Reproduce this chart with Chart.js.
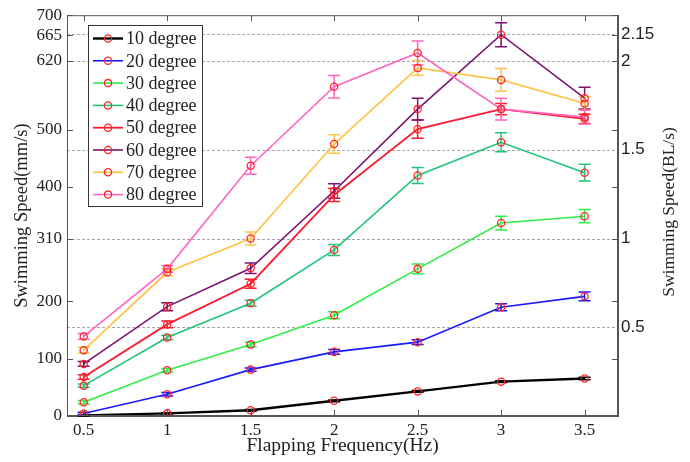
<!DOCTYPE html>
<html lang="en">
<head>
    <meta charset="UTF-8">
    <style>
        html, body { margin: 0; padding: 0; background: #fff; }
        .wrap { width: 690px; height: 462px; position: relative; }
    </style>
</head>
<body>
    <div class="wrap"><canvas id="speedChart"></canvas></div>

    <script src="https://cdn.jsdelivr.net/npm/chart.js"></script>
    <script>
        // flapping frequency (Hz)
        const freq = [0.5, 1, 1.5, 2, 2.5, 3, 3.5];

        // swimming speed (mm/s) per flapping angle
        const deg10 = [1, 4.6, 10, 26.6, 43, 60, 65.5];
        const deg20 = [4.5, 38, 81, 112, 129, 190, 209];
        const deg30 = [24, 80, 125, 176, 257, 337, 349];
        const deg40 = [53, 137, 197, 290, 420, 478, 425];
        const deg50 = [68, 160, 231, 386, 501, 536, 519];
        const deg60 = [91, 191, 258, 393, 536, 666, 555];
        const deg70 = [115, 251, 310, 475, 608, 587, 546];
        const deg80 = [139, 257, 437, 575, 634, 536, 522];

        // error bar half widths (mm/s)
        const err10 = [1, 1, 1.5, 1.5, 1.5, 1.5, 2];
        const err20 = [2, 3, 3, 4, 4, 6, 7.5];
        const err30 = [3, 3, 4, 6, 8.5, 12, 11.5];
        const err40 = [3, 4, 5, 9.5, 14, 16.5, 14.5];
        const err50 = [4, 6, 8, 11.5, 16, 10, 8];
        const err60 = [4, 7, 9, 12.5, 19, 21, 19];
        const err70 = [5, 6, 11.5, 16, 13, 20, 12];
        const err80 = [5, 6, 15, 19.5, 21, 19, 12];

        const labels = ['10 degree', '20 degree', '30 degree', '40 degree',
                        '50 degree', '60 degree', '70 degree', '80 degree'];

        // tick values
        const xTicks = [0.5, 1, 1.5, 2, 2.5, 3, 3.5];
        const leftTicks = [0, 100, 200, 310, 400, 500, 620, 665, 700];
        const rightTicks = [0.5, 1, 1.5, 2, 2.15];
        const bodyLength = 310; // mm, 1 BL/s = 310 mm/s

        const series = [deg10, deg20, deg30, deg40, deg50, deg60, deg70, deg80];
        const errors = [err10, err20, err30, err40, err50, err60, err70, err80];
        const colors = ['#000000', '#1a1aff', '#30ee48', '#20c47a',
                        '#ff1a30', '#7c1272', '#ffc44e', '#ff66c2'];
        const widths = [2.4, 1.6, 1.6, 1.6, 1.8, 1.6, 1.8, 1.6];
        const markerColor = '#ff2626';
        const serif = "'Liberation Serif', 'Times New Roman', serif";
        const sans = "'Liberation Sans', Arial, sans-serif";

        const datasets = series.map((vals, i) => ({
            label: labels[i],
            data: freq.map((f, j) => ({ x: f, y: vals[j] })),
            errs: errors[i],
            borderColor: colors[i],
            borderWidth: widths[i],
            pointStyle: 'circle',
            pointRadius: 3.6,
            pointBorderWidth: 1.3,
            pointBorderColor: markerColor,
            pointBackgroundColor: 'rgba(0,0,0,0)',
            fill: false,
            tension: 0,
            order: 8 - i
        }));

        const decor = {
            id: 'decor',
            beforeDatasetsDraw(chart) {
                const { ctx, chartArea: a, scales } = chart;
                ctx.save();
                // dashed grid at BL/s values
                ctx.strokeStyle = '#a8a8b0';
                ctx.lineWidth = 1;
                ctx.setLineDash([3, 2]);
                rightTicks.forEach(v => {
                    const y = Math.round(scales.y2.getPixelForValue(v)) + 0.5;
                    ctx.beginPath();
                    ctx.moveTo(a.left, y);
                    ctx.lineTo(a.right, y);
                    ctx.stroke();
                });
                ctx.setLineDash([]);
                // error bars
                chart.data.datasets.forEach(ds => {
                    ctx.strokeStyle = ds.borderColor;
                    ctx.lineWidth = 1.5;
                    ds.data.forEach((p, j) => {
                        const x = scales.x.getPixelForValue(p.x);
                        const y1 = scales.y.getPixelForValue(p.y - ds.errs[j]);
                        const y2 = scales.y.getPixelForValue(p.y + ds.errs[j]);
                        ctx.beginPath();
                        ctx.moveTo(x, y1); ctx.lineTo(x, y2);
                        ctx.moveTo(x - 6, y1); ctx.lineTo(x + 6, y1);
                        ctx.moveTo(x - 6, y2); ctx.lineTo(x + 6, y2);
                        ctx.stroke();
                    });
                });
                ctx.restore();
            },
            afterDraw(chart) {
                const { ctx, chartArea: a, scales } = chart;
                ctx.save();
                // box and inward ticks
                ctx.strokeStyle = '#555';
                ctx.lineWidth = 1;
                ctx.strokeRect(a.left + 0.5, a.top + 0.5, a.right - a.left - 1, a.bottom - a.top - 1);
                ctx.beginPath();
                leftTicks.forEach(v => {
                    const y = Math.round(scales.y.getPixelForValue(v)) + 0.5;
                    ctx.moveTo(a.left, y); ctx.lineTo(a.left + 6, y);
                    ctx.moveTo(a.right, y); ctx.lineTo(a.right - 6, y);
                });
                xTicks.forEach(v => {
                    const x = Math.round(scales.x.getPixelForValue(v)) + 0.5;
                    ctx.moveTo(x, a.bottom); ctx.lineTo(x, a.bottom - 6);
                    ctx.moveTo(x, a.top); ctx.lineTo(x, a.top + 6);
                });
                ctx.stroke();

                // right axis title, reading bottom to top
                ctx.fillStyle = '#222';
                ctx.font = '17.5px ' + serif;
                ctx.textAlign = 'center';
                ctx.textBaseline = 'middle';
                ctx.translate(669, 212);
                ctx.rotate(-Math.PI / 2);
                ctx.fillText('Swimming Speed(BL/s)', 0, 0);
                ctx.restore();

                // legend box
                ctx.save();
                const lx = 88, ly = 25, lw = 114, lh = 181;
                ctx.fillStyle = '#fff';
                ctx.fillRect(lx, ly, lw, lh);
                ctx.strokeStyle = '#333';
                ctx.lineWidth = 1;
                ctx.strokeRect(lx + 0.5, ly + 0.5, lw, lh);
                ctx.font = '18px ' + serif;
                ctx.textAlign = 'left';
                ctx.textBaseline = 'middle';
                chart.data.datasets.forEach((ds, i) => {
                    const y = 38.5 + i * 22.3;
                    ctx.strokeStyle = ds.borderColor;
                    ctx.lineWidth = ds.borderWidth;
                    ctx.beginPath();
                    ctx.moveTo(93, y); ctx.lineTo(123, y);
                    ctx.stroke();
                    ctx.strokeStyle = markerColor;
                    ctx.lineWidth = 1.3;
                    ctx.beginPath();
                    ctx.arc(108, y, 3.6, 0, Math.PI * 2);
                    ctx.stroke();
                    ctx.fillStyle = '#222';
                    ctx.fillText(ds.label, 126, y + 1);
                });
                ctx.restore();
            }
        };

        const ctx = document.getElementById('speedChart').getContext('2d');
        new Chart(ctx, {
            type: 'line',
            data: { datasets: datasets },
            options: {
                responsive: true,
                maintainAspectRatio: false,
                animation: false,
                layout: { padding: { top: 13, left: 0, right: 0, bottom: 0 } },
                scales: {
                    x: {
                        type: 'linear',
                        min: 0.4,
                        max: 3.7,
                        afterBuildTicks: s => { s.ticks = xTicks.map(v => ({ value: v })); },
                        afterFit: s => { s.height = 46; },
                        grid: { display: false, drawTicks: false },
                        border: { display: true, color: '#555' },
                        ticks: {
                            autoSkip: false,
                            maxRotation: 0,
                            padding: 4,
                            color: '#222',
                            font: { family: serif, size: 17 },
                            callback: v => String(v)
                        },
                        title: {
                            display: true,
                            text: 'Flapping Frequency(Hz)',
                            color: '#222',
                            font: { family: serif, size: 19.5 },
                            padding: { top: 0, bottom: 4 }
                        }
                    },
                    y: {
                        position: 'left',
                        min: 0,
                        max: 700,
                        afterBuildTicks: s => { s.ticks = leftTicks.map(v => ({ value: v })); },
                        afterFit: s => { s.width = 67; },
                        grid: { display: false, drawTicks: false },
                        border: { display: true, color: '#555' },
                        ticks: {
                            padding: 5,
                            color: '#222',
                            font: { family: serif, size: 17 }
                        },
                        title: {
                            display: true,
                            text: 'Swimming Speed(mm/s)',
                            color: '#222',
                            font: { family: serif, size: 18.5 },
                            padding: { top: 11, bottom: 0 }
                        }
                    },
                    y2: {
                        position: 'right',
                        min: 0,
                        max: 700 / bodyLength,
                        afterBuildTicks: s => { s.ticks = rightTicks.map(v => ({ value: v })); },
                        afterFit: s => { s.width = 72; },
                        grid: { display: false, drawTicks: false },
                        border: { display: true, color: '#555' },
                        ticks: {
                            padding: 3,
                            color: '#222',
                            font: { family: sans, size: 17 },
                            callback: v => String(v)
                        }
                    }
                },
                plugins: {
                    legend: { display: false },
                    tooltip: { enabled: false }
                }
            },
            plugins: [decor]
        });
    </script>
</body>
</html>
